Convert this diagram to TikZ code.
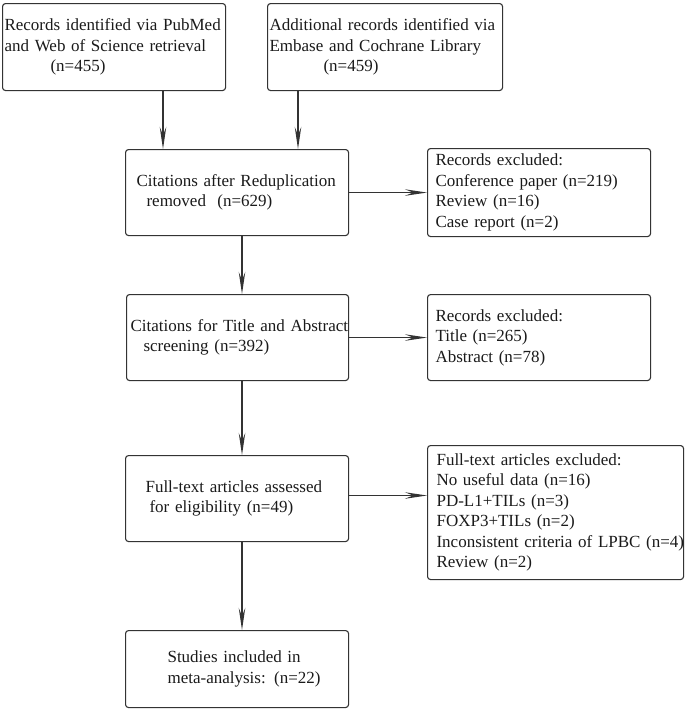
\documentclass[tikz,border=0pt]{standalone}
\usepackage{fontspec}
\setmainfont{Liberation Serif}
\usepackage{xcolor}
\usepackage{tikz}
\usetikzlibrary{arrows.meta}
\definecolor{edge}{HTML}{333333}
\definecolor{ink}{HTML}{1A1A1A}
\tikzset{
  box/.style={draw=edge, line width=1.1pt, rounded corners=3pt, anchor=north west, align=left, text=ink, font=\fontsize{17}{20.5}\selectfont, inner ysep=0pt},
  arr/.style={draw=edge, line width=1.2pt, -{Stealth[length=22pt,width=6.5pt,inset=8pt]}}
}

\begin{document}
\begin{tikzpicture}[x=1pt,y=-1pt]
  \useasboundingbox (0,0) rectangle (685,710);
  \node[box, inner xsep=2pt, text width=219pt, minimum height=87pt] (pub) at (2,3)
    {Records identified via PubMed\\and Web of Science retrieval\\\hspace*{46pt}(n=455)};
  \node[box, inner xsep=2pt, text width=231pt, minimum height=87pt] (emb) at (267,3)
    {Additional records identified via\\Embase and Cochrane Library\\\hspace*{54pt}(n=459)};
  \node[box, inner xsep=11pt, text width=201pt, minimum height=86pt] (dedup) at (125,149)
    {\mbox{Citations after Reduplication}\\\hspace*{10pt}removed\ \ (n=629)};
  \node[box, inner xsep=8pt, text width=207pt, minimum height=88pt] (excl1) at (427,148)
    {Records excluded:\\Conference paper (n=219)\\Review (n=16)\\Case report (n=2)};
  \node[box, inner xsep=4pt, text width=214pt, minimum height=86pt] (screen) at (126,294)
    {\mbox{Citations for Title and Abstract}\\\hspace*{13pt}screening (n=392)};
  \node[box, inner xsep=8pt, text width=207pt, minimum height=86pt] (excl2) at (427,294)
    {Records excluded:\\Title (n=265)\\Abstract (n=78)};
  \node[box, inner xsep=20pt, text width=183pt, minimum height=86pt] (full) at (125,455)
    {Full-text articles assessed\\\hspace*{4pt}for eligibility (n=49)};
  \node[box, inner xsep=9pt, text width=238pt, minimum height=134pt] (excl3) at (427,445)
    {Full-text articles excluded:\\No useful data (n=16)\\PD-L1+TILs (n=3)\\FOXP3+TILs (n=2)\\\mbox{Inconsistent criteria of LPBC (n=4)}\\Review (n=2)};
  \node[box, inner xsep=8pt, text width=207pt, minimum height=77pt] (incl) at (125,630)
    {\hspace*{34pt}Studies included in\\\hspace*{34pt}meta-analysis: (n=22)};
  \draw[arr] (pub.south -| 163,0) -- (dedup.north -| 163,0);
  \draw[arr] (emb.south -| 298,0) -- (dedup.north -| 298,0);
  \draw[arr] (dedup.east) -- (dedup.east -| excl1.west);
  \draw[arr] (dedup.south -| 242,0) -- (screen.north -| 242,0);
  \draw[arr] (screen.east) -- (screen.east -| excl2.west);
  \draw[arr] (screen.south -| 242,0) -- (full.north -| 242,0);
  \draw[arr] (full.east |- 0,495.5) -- (excl3.west |- 0,495.5);
  \draw[arr] (full.south -| 242,0) -- (incl.north -| 242,0);
\end{tikzpicture}
\end{document}
